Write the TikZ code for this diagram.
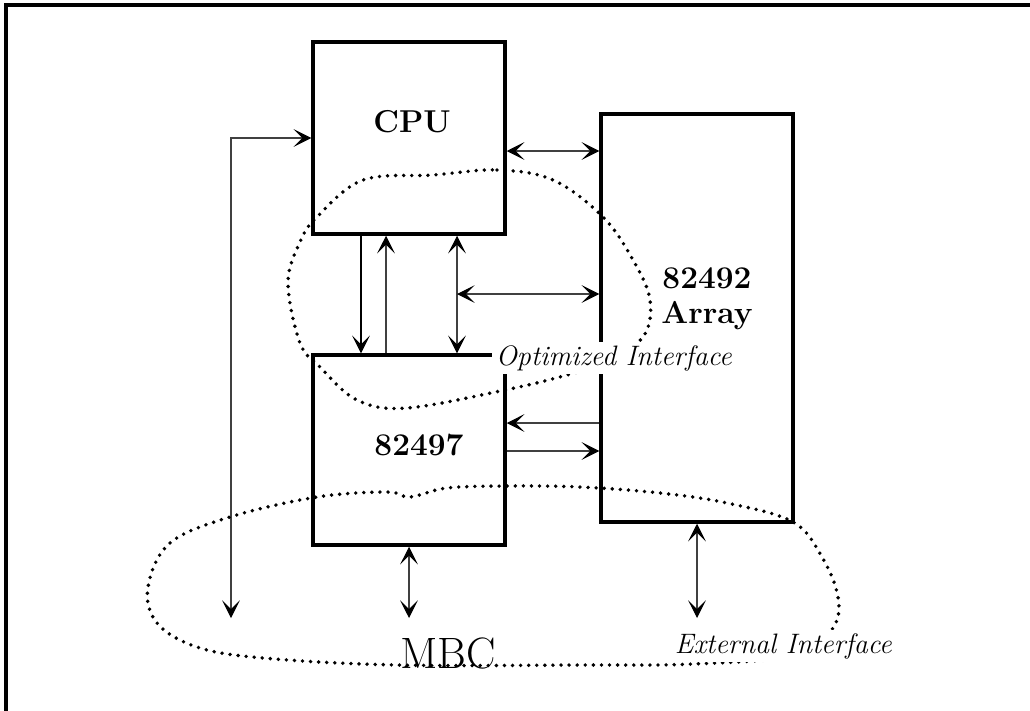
\documentclass[tikz,border=0pt]{standalone}
\usepackage{tikz}
\usetikzlibrary{arrows.meta}

\begin{document}
\begin{tikzpicture}[x=0.02cm,y=-0.02cm,
  >={Stealth[length=10pt,width=10pt,inset=5pt,color=black]},
  unit/.style={draw,line width=2pt,minimum width=3.84cm,inner sep=0pt},
  unitname/.style={font=\fontsize{18}{20}\selectfont\bfseries,inner sep=0pt},
  bus/.style={line width=0.6pt,draw=black!75},
  iface/.style={font=\fontsize{16}{18}\selectfont\itshape,fill=white,inner sep=2pt},
  dotline/.style={line width=2.2pt,dash pattern=on 0pt off 4.6pt,line cap=round}]
\useasboundingbox (0,0) rectangle (1030,710);
\draw[line width=1.8pt] (6,720) -- (6,5) -- (1040,5);

% units
\node[unit,minimum height=3.84cm] (cpu) at (409,138) {};
\node[unit,minimum height=3.8cm] (c97) at (409,450) {};
\node[unit,minimum height=8.16cm] (arr) at (697,318) {};
\node[unitname,anchor=base] (cpuname) at (412,132) {CPU};
\node[unitname,anchor=base] (c97name) at (419,455) {82497};
\node[unitname,anchor=north,align=center] (arrname) at (707,267) {82492\\Array};

% bus ends
\coordinate (busL) at (231,618);
\coordinate (busM) at (409,618);
\coordinate (busR) at (697,618);
\coordinate (tap) at (457,294);

% connections
\draw[bus,<->] (busL) |- (cpu.west);
\draw[bus,<->] (cpu.east |- 0,151) -- (arr.west |- 0,151);
\draw[bus,draw=black,->] (cpu.south -| 361,0) -- (c97.north -| 361,0);
\draw[bus,<-] (cpu.south -| 386,0) -- (c97.north -| 386,0);
\draw[bus,<->] (cpu.south -| 457,0) -- (c97.north -| 457,0);
\draw[bus,<->] (tap) -- (arr.west |- tap);
\draw[bus,<-] (c97.east |- 0,423) -- (arr.west |- 0,423);
\draw[bus,->] (c97.east |- 0,451) -- (arr.west |- 0,451);
\draw[bus,<->] (c97.south) -- (busM);
\draw[bus,<->] (arr.south) -- (busR);

% interface outlines
\draw[dotline] plot[smooth cycle,tension=0.6] coordinates {(433,175) (497,170) (553,180) (603,217)
  (633,260) (650,300) (643,337) (605,362) (567,375) (505,390) (407,408) (357,400) (320,367)
  (300,343) (288,283) (300,242) (317,217) (363,180)};
\draw[dotline] plot[smooth cycle,tension=0.6] coordinates {(507,486) (580,487) (660,493) (727,503)
  (793,522) (822,557) (838,597) (833,628) (800,655) (693,664) (580,665) (397,665) (263,658)
  (197,647) (157,623) (148,587) (170,543) (230,517) (317,497) (387,492) (410,497) (447,488)};

\node[iface,anchor=base west] (optlbl) at (492,365) {Optimized Interface};
\node[iface,anchor=base west] (extlbl) at (671,653) {External Interface};
\node[font=\fontsize{25}{28}\selectfont,inner sep=0pt,anchor=base] (mbc) at (448,668) {MBC};
\end{tikzpicture}
\end{document}
